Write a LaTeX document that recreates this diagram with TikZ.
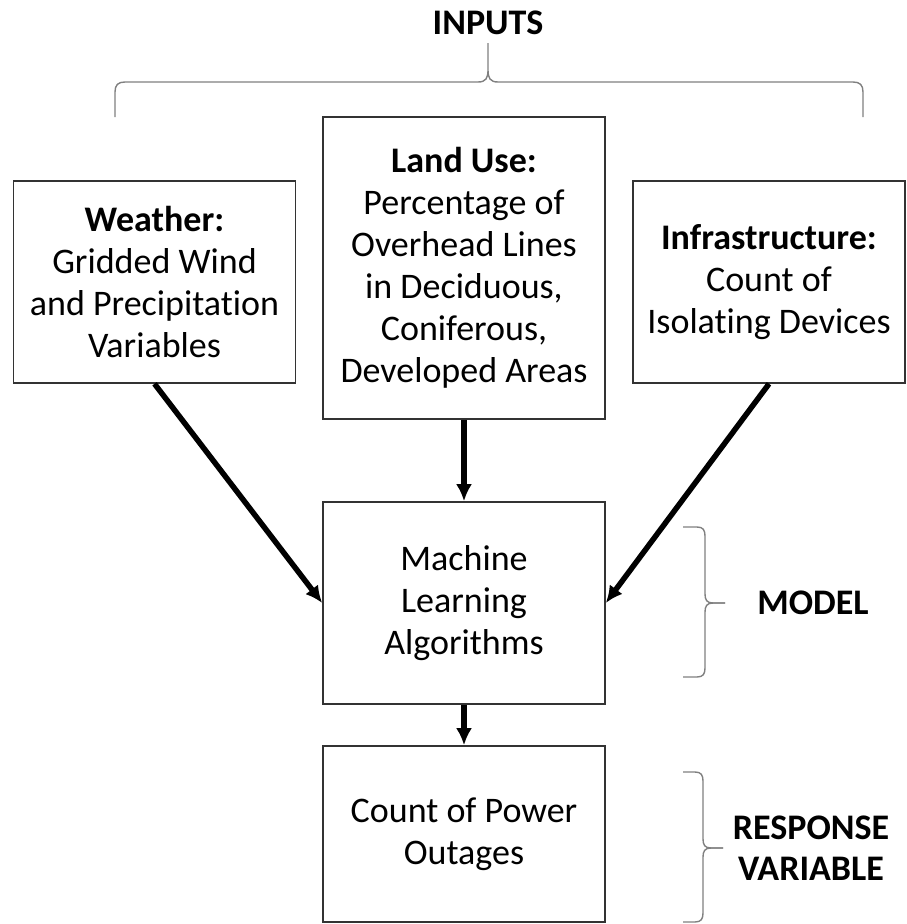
\documentclass[tikz,border=0pt]{standalone}
\usepackage{fontspec}
\setmainfont{Carlito}[Ligatures=NoCommon]
\usetikzlibrary{arrows.meta,calc}

\tikzset{
  box/.style={draw=black!80,line width=1.6pt,align=center,inner sep=0pt,
    minimum width=282pt,minimum height=202pt,font=\fontsize{36}{42}\selectfont},
  flow/.style={line width=5.5pt,-{Latex[length=17pt,width=16pt]}},
  brc/.style={draw=black!50,line width=1.4pt},
  tag/.style={align=center,font=\fontsize{36}{41}\selectfont\bfseries}
}

\begin{document}
\begin{tikzpicture}[x=1pt,y=-1pt]
\useasboundingbox (0,0) rectangle (907,924);
% boxes
\node[box] (wx) at (154.5,282) {\textbf{Weather:}\\Gridded Wind\\and Precipitation\\Variables};
\node[box,minimum height=302pt] (land) at (464,268) {\textbf{Land Use:}\\Percentage of\\Overhead Lines\\in Deciduous,\\Coniferous,\\Developed Areas};
\node[box,minimum width=272pt] (infra) at (769,282) {\textbf{Infrastructure:}\\Count of\\Isolating Devices};
\node[box] (ml) at (464,603) {Machine\\Learning\\Algorithms};
\node[box,minimum height=176pt] (out) at (464,834) {Count of Power\\Outages};
% arrows
\draw[flow] (wx.south) -- (ml.west);
\draw[flow] (infra.south) -- (ml.east);
\draw[flow] (land) -- (ml);
\draw[flow] (ml) -- (out);
% inputs brace
\draw[brc] (115,117) -- (115,92) .. controls (115,85) and (118,82) .. (125,82) -- (478,82)
  .. controls (486,82) and (488,78) .. (488,70) -- (488,43) -- (488,70)
  .. controls (488,78) and (490,82) .. (498,82) -- (853,82)
  .. controls (860,82) and (863,85) .. (863,92) -- (863,117);
% model brace
\draw[brc] (683,527) -- (697,527) .. controls (703,527) and (705,530) .. (705,536) -- (705,594)
  .. controls (705,600) and (707,603) .. (713,603) -- (725,603);
\draw[brc] (725,603) -- (713,603) .. controls (707,603) and (705,606) .. (705,612) -- (705,668)
  .. controls (705,674) and (703,677) .. (697,677) -- (683,677);
% response brace
\draw[brc] (683,772) -- (695,772) .. controls (701,772) and (703,775) .. (703,781) -- (703,839)
  .. controls (703,845) and (705,848) .. (711,848) -- (723,848);
\draw[brc] (723,848) -- (711,848) .. controls (705,848) and (703,851) .. (703,857) -- (703,913)
  .. controls (703,919) and (701,922) .. (695,922) -- (683,922);
% labels
\node[tag] (inputs) at (488,23) {INPUTS};
\node[tag] (model) at (813,603) {MODEL};
\node[tag] (resp) at (811,848) {RESPONSE\\VARIABLE};
\end{tikzpicture}
\end{document}
